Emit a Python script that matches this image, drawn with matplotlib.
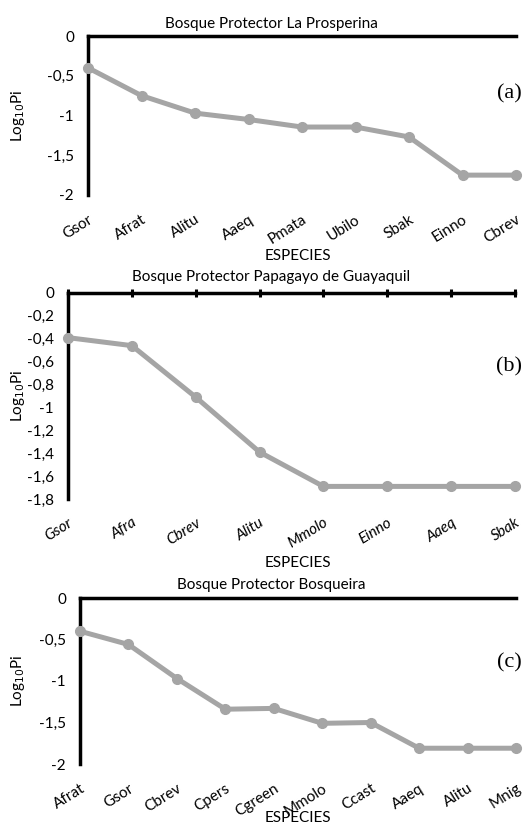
import matplotlib
matplotlib.use("Agg")
import matplotlib.pyplot as plt

# ---- data ----
cats_a = ["Gsor", "Afrat", "Alitu", "Aaeq", "Pmata", "Ubilo", "Sbak", "Einno", "Cbrev"]
vals_a = [-0.40, -0.75, -0.97, -1.05, -1.145, -1.145, -1.27, -1.75, -1.75]
yticks_a = [0, -0.5, -1, -1.5, -2]
yticklabels_a = ["0", "-0,5", "-1", "-1,5", "-2"]

cats_b = ["Gsor", "Afra", "Cbrev", "Alitu", "Mmolo", "Einno", "Aaeq", "Sbak"]
vals_b = [-0.39, -0.46, -0.91, -1.39, -1.69, -1.69, -1.69, -1.69]
yticks_b = [0, -0.2, -0.4, -0.6, -0.8, -1.0, -1.2, -1.4, -1.6, -1.8]
yticklabels_b = ["0", "-0,2", "-0,4", "-0,6", "-0,8", "-1", "-1,2", "-1,4", "-1,6", "-1,8"]

cats_c = ["Afrat", "Gsor", "Cbrev", "Cpers", "Cgreen", "Mmolo", "Ccast", "Aaeq", "Alitu", "Mnig"]
vals_c = [-0.40, -0.56, -0.97, -1.34, -1.33, -1.51, -1.50, -1.81, -1.81, -1.81]
yticks_c = [0, -0.5, -1, -1.5, -2]
yticklabels_c = ["0", "-0,5", "-1", "-1,5", "-2"]

titles = ["Bosque Protector La Prosperina",
          "Bosque Protector Papagayo de Guayaquil",
          "Bosque Protector Bosqueira"]
tags = ["(a)", "(b)", "(c)"]

plt.rcParams['font.family'] = ['Lato', 'DejaVu Sans']

W, H = 530, 834
fig = plt.figure(figsize=(W / 100, H / 100), dpi=100)

def add_ax(x0, y0, x1, y1):
    return fig.add_axes([x0 / W, 1 - y1 / H, (x1 - x0) / W, (y1 - y0) / H])

LINE = "#A5A5A5"
FS = 11

panels = [
    dict(box=(88, 36, 516, 195), cats=cats_a, vals=vals_a, yt=yticks_a, ytl=yticklabels_a,
         ylim=(-2, 0), italic=False, topticks=False, title_y=24, xlabel_y=256, tag_y=94),
    dict(box=(68, 293, 515, 499), cats=cats_b, vals=vals_b, yt=yticks_b, ytl=yticklabels_b,
         ylim=(-1.8, 0), italic=True, topticks=True, title_y=277, xlabel_y=563, tag_y=367),
    dict(box=(80, 598, 516, 764), cats=cats_c, vals=vals_c, yt=yticks_c, ytl=yticklabels_c,
         ylim=(-2, 0), italic=False, topticks=False, title_y=585, xlabel_y=818, tag_y=663),
]

for i, p in enumerate(panels):
    ax = add_ax(*p["box"])
    n = len(p["cats"])
    x = list(range(n))
    ax.plot(x, p["vals"], color=LINE, lw=3.6, marker="o", ms=7, clip_on=False, zorder=3,
            solid_capstyle="round")
    ax.set_xlim(0, n - 1)
    ax.set_ylim(*p["ylim"])
    for s in ["bottom", "right"]:
        ax.spines[s].set_visible(False)
    for s in ["top", "left"]:
        ax.spines[s].set_linewidth(2.5)
        ax.spines[s].set_color("black")
        ax.spines[s].set_capstyle("projecting")
    ax.set_yticks(p["yt"])
    ax.set_yticklabels(p["ytl"], fontsize=FS)
    ax.tick_params(axis="y", length=0, pad=10)
    ax.set_xticks(x)
    ax.set_xticklabels(p["cats"], fontsize=FS, rotation=32, ha="right",
                       rotation_mode="anchor", style="italic" if p["italic"] else "normal")
    ax.tick_params(axis="x", bottom=False, pad=9)
    if p["topticks"]:
        ax.tick_params(axis="x", top=True, direction="inout", length=6, width=2.2)
    ax.patch.set_alpha(0)
    x0, y0, x1, y1 = p["box"]
    fig.text(271 / W, 1 - p["title_y"] / H, titles[i], fontsize=FS,
             ha="center", va="center")
    fig.text(298 / W, 1 - p["xlabel_y"] / H, "ESPECIES", fontsize=FS,
             ha="center", va="center")
    fig.text(18 / W, 1 - ((y0 + y1) / 2) / H, r"Log$_{10}$Pi", fontsize=FS, rotation=90,
             ha="center", va="center")
    fig.text(522 / W, 1 - p["tag_y"] / H, tags[i], fontsize=16, family="Liberation Serif",
             ha="right", va="center")

fig.savefig("out.png", dpi=100)
